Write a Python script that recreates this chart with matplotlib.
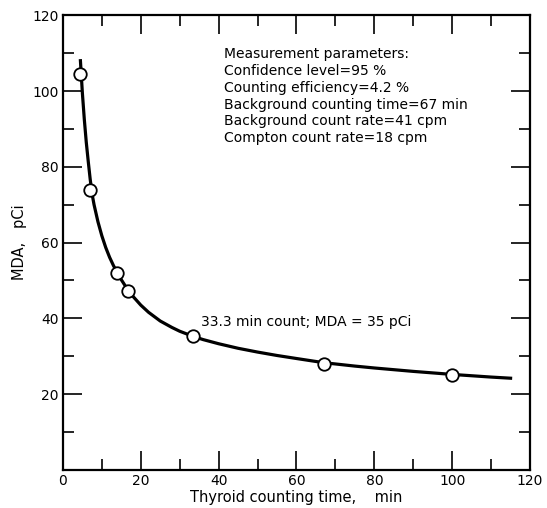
import matplotlib.pyplot as plt
from matplotlib.ticker import MultipleLocator

# measured points (counting time in min, MDA in pCi)
t_pts = [4.5, 7.0, 14.0, 16.7, 33.3, 67, 100]
mda_pts = [104.5, 73.8, 52.0, 47.2, 35.3, 28.0, 25.0]

# smooth curve
t_curve = [4.5, 5, 5.5, 6, 6.5, 7, 7.5, 8, 9, 10, 11, 12, 13, 14, 15, 16, 17, 18, 20, 22, 25, 28,
           30, 33.3, 36, 40, 45, 50, 55, 60, 67, 75, 80, 90, 100, 110, 115]
mda_curve = [108, 99.5, 92.5, 86.5, 81.5, 76.8, 72.8, 70.0, 65.5, 61.8, 58.7, 56.1, 53.9, 52.0,
             50.2, 48.6, 47.1, 45.8, 43.5, 41.6, 39.3, 37.6, 36.6, 35.3, 34.4, 33.3, 32.1, 31.1,
             30.2, 29.4, 28.3, 27.4, 26.9, 26.0, 25.2, 24.5, 24.2]

params = ["Measurement parameters:",
          "Confidence level=95 %",
          "Counting efficiency=4.2 %",
          "Background counting time=67 min",
          "Background count rate=41 cpm",
          "Compton count rate=18 cpm"]

plt.rcParams['font.family'] = 'DejaVu Sans'

fig = plt.figure(figsize=(5.47, 5.08), dpi=100)
ax = fig.add_axes([0.115, 0.075, 0.854, 0.895])

ax.plot(t_curve, mda_curve, color='black', lw=2.3, solid_joinstyle='round')
ax.plot(t_pts, mda_pts, 'o', ms=9, mfc='white', mec='black', mew=1.3, zorder=3)

ax.set_xlim(0, 120)
ax.set_ylim(0, 120)
ax.xaxis.set_major_locator(MultipleLocator(20))
ax.xaxis.set_minor_locator(MultipleLocator(10))
ax.yaxis.set_major_locator(MultipleLocator(20))
ax.yaxis.set_minor_locator(MultipleLocator(10))
ax.tick_params(which='both', direction='in', top=True, right=True, labelsize=10, width=1.2)
ax.tick_params(which='major', length=14, pad=3)
ax.tick_params(which='minor', length=8)
ax.set_yticks([0, 20, 40, 60, 80, 100, 120])
ax.set_yticklabels(['', '20', '40', '60', '80', '100', '120'])
for s in ax.spines.values():
    s.set_linewidth(1.6)

ax.set_xlabel('Thyroid counting time,    min', fontsize=10.5)
ax.xaxis.set_label_coords(0.5, -0.045, transform=ax.transAxes)
ax.xaxis.label.set_va('top')
ax.set_ylabel('MDA,   pCi', fontsize=10.5, labelpad=4)

ax.text(41.5, 111.5, "\n".join(params), fontsize=10, va='top', ha='left', linespacing=1.25)
ax.text(35.5, 39.0, "33.3 min count; MDA = 35 pCi", fontsize=10, ha='left', va='center')

fig.savefig('out.png', dpi=100)
